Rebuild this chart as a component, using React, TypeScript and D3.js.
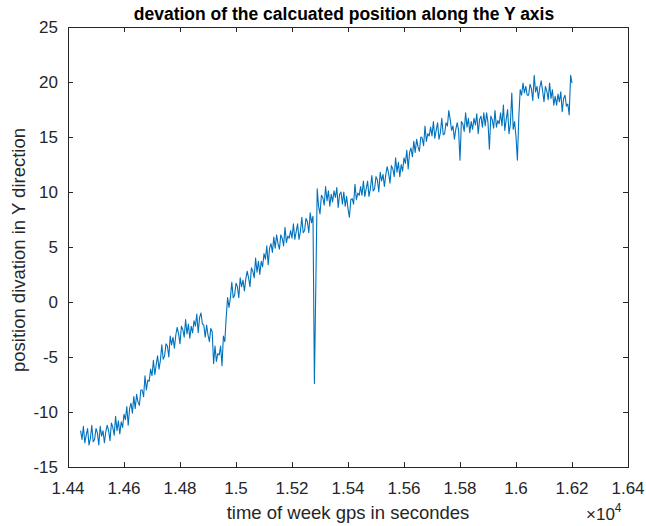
import React from "react";
import * as d3 from "d3";

const T0 = 14445;
const STEP = 5;
const yValues: number[] = [
  -11.7,-12.5,-11.3,-12.8,-12.1,-11.5,-13.0,-12.4,-11.2,-12.7,
  -12.5,-11.5,-11.9,-13.0,-11.3,-12.2,-11.7,-12.8,-11.8,-11.2,
  -11.7,-12.6,-11.0,-11.4,-12.1,-10.4,-11.7,-10.8,-12.0,-10.9,
  -11.4,-10.2,-10.7,-9.5,-11.2,-9.7,-9.2,-10.1,-8.6,-9.7,
  -8.4,-9.1,-9.4,-8.0,-8.0,-8.6,-6.7,-8.0,-7.1,-7.2,
  -6.1,-6.7,-5.3,-6.6,-5.7,-4.9,-6.1,-5.3,-3.9,-5.2,
  -4.9,-3.8,-4.0,-5.0,-3.1,-3.9,-3.2,-4.2,-3.0,-2.3,
  -2.9,-3.8,-2.2,-2.5,-3.2,-1.6,-2.9,-2.0,-3.3,-2.2,
  -2.8,-1.7,-2.2,-1.1,-2.8,-1.4,-1.0,-2.0,-2.1,-3.2,
  -2.1,-3.0,-3.6,-2.4,-2.7,-5.6,-4.0,-5.4,-4.7,-4.8,
  -4.0,-5.8,-3.1,-3.6,-1.4,0.4,-0.5,0.4,1.8,0.4,
  0.6,1.7,1.4,0.4,2.2,1.4,2.0,1.0,2.1,2.8,
  2.2,1.4,3.1,2.8,2.2,4.0,2.7,3.7,2.5,3.7,
  3.2,4.4,3.9,5.1,3.4,4.9,5.3,4.5,5.9,4.9,
  6.1,5.3,4.8,6.1,5.8,5.1,6.8,5.4,6.0,5.8,
  6.5,5.8,7.1,5.7,6.4,7.1,5.7,6.4,7.7,6.3,
  6.5,7.6,7.3,6.3,8.1,7.2,7.8,-7.4,1.4,10.3,
  8.7,8.0,9.7,9.5,8.8,10.5,9.2,10.1,8.7,9.8,
  9.1,10.1,9.5,10.4,8.6,9.8,10.0,8.9,10.0,8.7,
  9.6,8.5,7.7,9.3,9.4,8.9,10.7,9.3,9.9,9.7,
  10.5,9.7,11.0,9.6,10.3,11.0,9.6,10.3,11.5,10.1,
  10.3,11.4,11.1,10.0,11.8,11.0,11.6,10.5,11.6,12.3,
  11.7,10.8,12.4,12.1,11.4,13.1,11.8,12.7,11.4,12.5,
  11.9,13.1,12.6,13.8,12.1,13.6,14.0,13.2,14.6,13.6,
  14.8,14.1,13.7,15.0,14.9,14.2,16.0,14.6,15.3,15.1,
  15.9,15.1,16.4,14.9,15.6,16.3,14.8,15.4,16.7,15.2,
  15.3,16.3,16.0,17.4,16.6,15.6,16.0,14.8,15.7,16.3,
  15.6,12.9,16.4,16.2,15.5,17.2,15.9,16.7,15.4,16.4,
  15.7,16.7,16.1,17.1,15.3,16.6,16.9,15.9,17.2,16.0,
  17.2,16.3,13.9,16.9,16.6,15.8,17.4,15.9,16.5,16.2,
  17.2,16.0,17.9,15.6,16.6,17.5,15.3,16.2,19.0,15.7,
  16.4,15.0,12.9,16.8,19.3,18.8,19.9,19.0,19.6,18.8,
  18.8,19.8,19.4,18.3,20.6,19.1,19.6,18.5,19.5,20.1,
  19.2,18.2,19.6,19.2,18.4,19.9,18.5,19.3,17.9,18.7,
  17.9,18.9,18.2,19.1,17.3,18.5,18.8,17.8,18.0,17.0,
  20.6,19.9,
];
const xTickValues = [14400, 14600, 14800, 15000, 15200, 15400, 15600, 15800, 16000, 16200, 16400];
const xTickLabels = ["1.44", "1.46", "1.48", "1.5", "1.52", "1.54", "1.56", "1.58", "1.6", "1.62", "1.64"];
const yTickValues = [-15, -10, -5, 0, 5, 10, 15, 20, 25];
const titleText = "devation of the calcuated position along the Y axis";
const xLabelText = "time of week gps in secondes";
const yLabelText = "position divation in Y direction";

const W = 646, H = 526;
const L = 68, R = 628, TOP = 27, BOT = 467;
const FONT = "'Liberation Sans', Arial, Helvetica, sans-serif";
const INK = "#262626";

export default function App() {
  const x = d3.scaleLinear().domain([14400, 16400]).range([L, R]);
  const y = d3.scaleLinear().domain([-15, 25]).range([BOT, TOP]);
  const pts: [number, number][] = yValues.map((v, i) => [T0 + i * STEP, v]);
  const line = d3.line<[number, number]>().x((d) => x(d[0])).y((d) => y(d[1]));
  const tl = 5;
  return (
    <svg width={W} height={H} style={{ position: "absolute", left: 0, top: 0, background: "#fff" }} fontFamily={FONT}>
      <rect x={0} y={0} width={W} height={H} fill="#fff" />
      <path d={line(pts) || ""} fill="none" stroke="#0072BD" strokeWidth={1.1} strokeLinejoin="round" />
      <rect x={L} y={TOP} width={R - L} height={BOT - TOP} fill="none" stroke={INK} strokeWidth={1} shapeRendering="crispEdges" />
      {xTickValues.map((t, i) => (
        <g key={"x" + i}>
          <line x1={x(t)} x2={x(t)} y1={BOT} y2={BOT - tl} stroke={INK} shapeRendering="crispEdges" />
          <line x1={x(t)} x2={x(t)} y1={TOP} y2={TOP + tl} stroke={INK} shapeRendering="crispEdges" />
          <text x={x(t)} y={BOT + 27} textAnchor="middle" fontSize={17} fill={INK}>{xTickLabels[i]}</text>
        </g>
      ))}
      {yTickValues.map((v, i) => (
        <g key={"y" + i}>
          <line x1={L} x2={L + tl} y1={y(v)} y2={y(v)} stroke={INK} shapeRendering="crispEdges" />
          <line x1={R} x2={R - tl} y1={y(v)} y2={y(v)} stroke={INK} shapeRendering="crispEdges" />
          <text x={L - 10} y={y(v)} dy="0.36em" textAnchor="end" fontSize={17} fill={INK}>{v}</text>
        </g>
      ))}
      <text x={344} y={20} textAnchor="middle" fontSize={17.5} fontWeight="bold" fill="#000">{titleText}</text>
      <text x={(L + R) / 2} y={519} textAnchor="middle" fontSize={18.5} fill={INK}>{xLabelText}</text>
      <text transform={`translate(25,${250}) rotate(-90)`} textAnchor="middle" fontSize={18.5} fill={INK}>{yLabelText}</text>
      <text x={586} y={520} fontSize={17} fill={INK}>
        {"\u00d710"}
        <tspan dy={-8} fontSize={12}>4</tspan>
      </text>
    </svg>
  );
}
